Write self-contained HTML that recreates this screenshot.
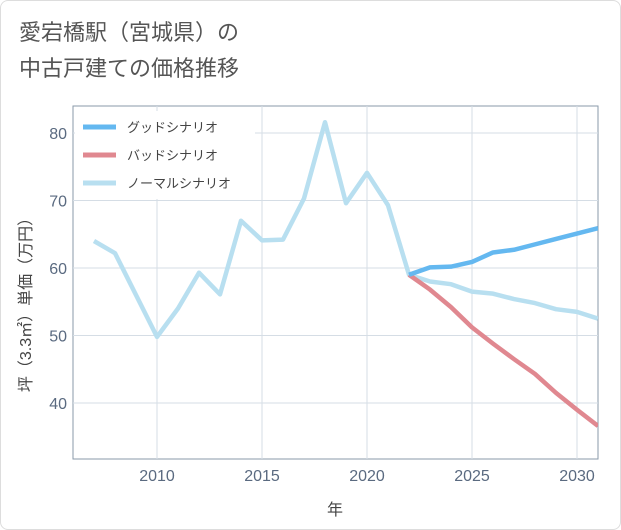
<!DOCTYPE html>
<html><head><meta charset="utf-8"><style>
body{margin:0;background:#fff;font-family:"Liberation Sans","Noto Sans CJK JP",sans-serif;}
#wrap{position:relative;width:619px;height:528px;border:1px solid #ddd;border-radius:8px;overflow:hidden;}
.title{position:absolute;left:18px;top:14px;font-size:22px;line-height:36px;color:#555;}
</style></head><body>
<div id="wrap">
<div class="title">愛宕橋駅（宮城県）の<br>中古戸建ての価格推移</div>
<svg id="c" width="621" height="530" style="position:absolute;left:0;top:0"></svg>
</div>
<script>
const years=[2007,2008,2009,2010,2011,2012,2013,2014,2015,2016,2017,2018,2019,2020,2021,2022,2023,2024,2025,2026,2027,2028,2029,2030,2031];
const normalVals=[64,62.2,56,49.8,54,59.3,56.1,67,64.1,64.2,70.3,81.6,69.6,74.1,69.3,59,58,57.6,56.5,56.2,55.4,54.8,53.9,53.5,52.5];
const futureYears=[2022,2023,2024,2025,2026,2027,2028,2029,2030,2031];
const goodVals=[59,60.1,60.2,60.9,62.3,62.7,63.5,64.3,65.1,65.9];
const badVals=[59,56.8,54.2,51.2,48.8,46.5,44.3,41.5,39,36.6];
const xTicks=[2010,2015,2020,2025,2030];
const yTicks=[40,50,60,70,80];
const NS="http://www.w3.org/2000/svg",svg=document.getElementById('c');
const L=72,R=597,T=105,B=458;
const x=v=>156+(v-2010)*21;
const y=v=>267-(v-60)*6.75;
function el(t,a,p){const e=document.createElementNS(NS,t);for(const k in a)e.setAttribute(k,a[k]);(p||svg).appendChild(e);return e;}
const frame=el('rect',{x:L,y:T,width:R-L,height:B-T,fill:'#fff',stroke:'#8a9aaa','stroke-width':1});


xTicks.forEach(t=>{const g=el('line',{x1:x(t),x2:x(t),y1:T,y2:B,stroke:'#d5dde5'});


const tx=el('text',{x:x(t),y:480,'text-anchor':'middle','font-size':16,fill:'#5a6a80'});tx.textContent=t;

});
yTicks.forEach(t=>{const g=el('line',{x1:L,x2:R,y1:y(t),y2:y(t),stroke:'#d5dde5'});


const tx=el('text',{x:66,y:y(t)+6,'text-anchor':'end','font-size':16,fill:'#5a6a80'});tx.textContent=t;

});
const xt=el('text',{x:334,y:514,'text-anchor':'middle','font-size':16,fill:'#444'});xt.textContent='年';


const yt=el('text',{x:0,y:0,'text-anchor':'middle','font-size':16,fill:'#444',transform:'translate(30,300) rotate(-90)'});yt.textContent='坪（3.3㎡）単価（万円）';


function line(xs,vs,col,name){const p=el('polyline',{points:xs.map((t,i)=>x(t)+','+y(vs[i])).join(' '),fill:'none',stroke:col,'stroke-width':4.5,'stroke-linejoin':'round','clip-path':'url(#cp)'});

}
const d=el('defs',{});const cp=el('clipPath',{id:'cp'},d);el('rect',{x:L,y:T,width:R-L,height:B-T},cp);
line(years,normalVals,'#b8dff0','normal-scenario-line');
line(futureYears,badVals,'#e08890','bad-scenario-line');
line(futureYears,goodVals,'#64b8f0','good-scenario-line');
const leg=[['グッドシナリオ','#64b8f0'],['バッドシナリオ','#e08890'],['ノーマルシナリオ','#b8dff0']];
el('rect',{x:74,y:110,width:180,height:88,fill:'#fff'});
leg.forEach((l,i)=>{const yy=126+i*28;const g=el('g',{});


el('line',{x1:82,x2:115,y1:yy,y2:yy,stroke:l[1],'stroke-width':5},g);
const t=el('text',{x:126,y:yy+5,'font-size':13,fill:'#444'},g);t.textContent=l[0];});
</script></body></html>
